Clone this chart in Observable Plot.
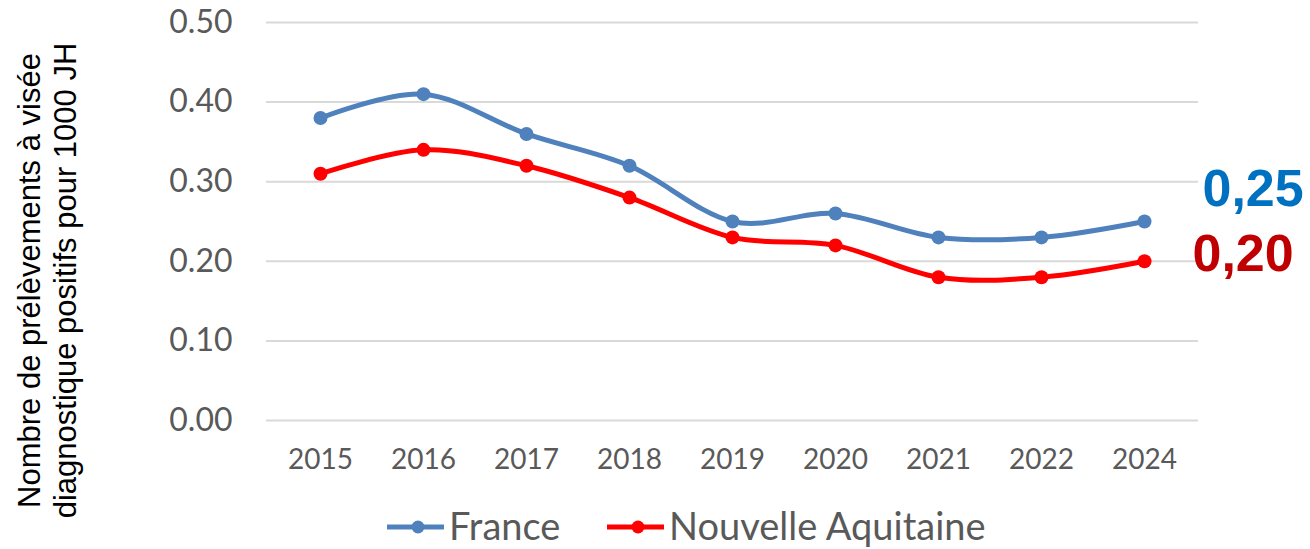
<!DOCTYPE html>
<html>
<head>
<meta charset="utf-8">
<script src="https://cdn.jsdelivr.net/npm/d3@7"></script>
<script src="https://cdn.jsdelivr.net/npm/@observablehq/plot@0.6"></script>
<style>
  html, body { margin: 0; padding: 0; background: #fff; }
  #wrap { position: relative; width: 1310px; height: 549px; overflow: hidden; }
  #chart { position: absolute; left: 0; top: 0; }
  #chart svg { overflow: visible; }
  #legend { position: absolute; left: 0; top: 500px; }
</style>
</head>
<body>
<div id="wrap">
  <div id="chart"></div>
  <svg id="legend" width="1310" height="49"></svg>
</div>
<script>
const years = ["2015", "2016", "2017", "2018", "2019", "2020", "2021", "2022", "2024"];
const france = [0.38, 0.41, 0.36, 0.32, 0.25, 0.26, 0.23, 0.23, 0.25];
const nouvelleAquitaine = [0.31, 0.34, 0.32, 0.28, 0.23, 0.22, 0.18, 0.18, 0.20];
const yTicks = [0, 0.1, 0.2, 0.3, 0.4, 0.5];
const seriesNames = ["France", "Nouvelle Aquitaine"];
const seriesColors = ["#4F81BD", "#FF0000"];
const lastLabels = ["0,25", "0,20"];
const lastLabelColors = ["#0070C0", "#C00000"];
const yTitle = "Nombre de prélèvements à visée\ndiagnostique positifs pour 1000 JH";

const rowsFr = years.map((y, i) => ({year: y, value: france[i]}));
const rowsNa = years.map((y, i) => ({year: y, value: nouvelleAquitaine[i]}));

const chart = Plot.plot({
  width: 1310,
  height: 500,
  marginLeft: 266,
  marginRight: 112,
  marginTop: 22,
  marginBottom: 80,
  style: {fontFamily: "Lato, 'Open Sans', sans-serif", background: "transparent", overflow: "visible"},
  x: {type: "point", domain: years, padding: 0.5, label: null},
  y: {domain: [0, 0.5], label: null},
  marks: [
    Plot.gridY(yTicks, {stroke: "#D9D9D9", strokeOpacity: 1, strokeWidth: 2}),
    Plot.axisY(yTicks, {tickSize: 0, tickPadding: 34, tickFormat: d3.format(".2f"), fontSize: 32, color: "#595959", label: null}),
    Plot.axisX({tickSize: 0, tickPadding: 29, fontSize: 28, color: "#595959", label: null}),
    Plot.text([yTitle], {frameAnchor: "left", rotate: -90, dx: -220, dy: 59, fontSize: 31, lineHeight: 1.16, fill: "#000", textAnchor: "middle", lineAnchor: "middle", fontFamily: "'Liberation Sans', Arial, sans-serif"}),
    Plot.line(rowsFr, {x: "year", y: "value", stroke: seriesColors[0], strokeWidth: 5, curve: "cardinal"}),
    Plot.dot(rowsFr, {x: "year", y: "value", fill: seriesColors[0], r: 7}),
    Plot.line(rowsNa, {x: "year", y: "value", stroke: seriesColors[1], strokeWidth: 5, curve: "cardinal"}),
    Plot.dot(rowsNa, {x: "year", y: "value", fill: seriesColors[1], r: 7}),
    Plot.text([rowsFr[rowsFr.length - 1]], {x: "year", y: "value", text: () => lastLabels[0], fill: lastLabelColors[0], fontSize: 52, fontWeight: "bold", textAnchor: "start", lineAnchor: "middle", dx: 58, dy: -32, fontFamily: "'Liberation Sans', Arial, sans-serif"}),
    Plot.text([rowsNa[rowsNa.length - 1]], {x: "year", y: "value", text: () => lastLabels[1], fill: lastLabelColors[1], fontSize: 52, fontWeight: "bold", textAnchor: "start", lineAnchor: "middle", dx: 48, dy: -7, fontFamily: "'Liberation Sans', Arial, sans-serif"})
  ]
});
document.getElementById("chart").appendChild(chart);

// Legend
const lg = d3.select("#legend");
const items = [{x: 387, name: seriesNames[0], color: seriesColors[0]}, {x: 607, name: seriesNames[1], color: seriesColors[1]}];
items.forEach(it => {
  lg.append("line").attr("x1", it.x).attr("x2", it.x + 57).attr("y1", 27).attr("y2", 27)
    .attr("stroke", it.color).attr("stroke-width", 5);
  lg.append("circle").attr("cx", it.x + 31).attr("cy", 27).attr("r", 6.5).attr("fill", it.color);
  lg.append("text").attr("x", it.x + 62).attr("y", 40).text(it.name)
    .attr("font-family", "Lato, 'Open Sans', sans-serif").attr("font-size", 38).attr("fill", "#595959");
});
</script>
</body>
</html>
